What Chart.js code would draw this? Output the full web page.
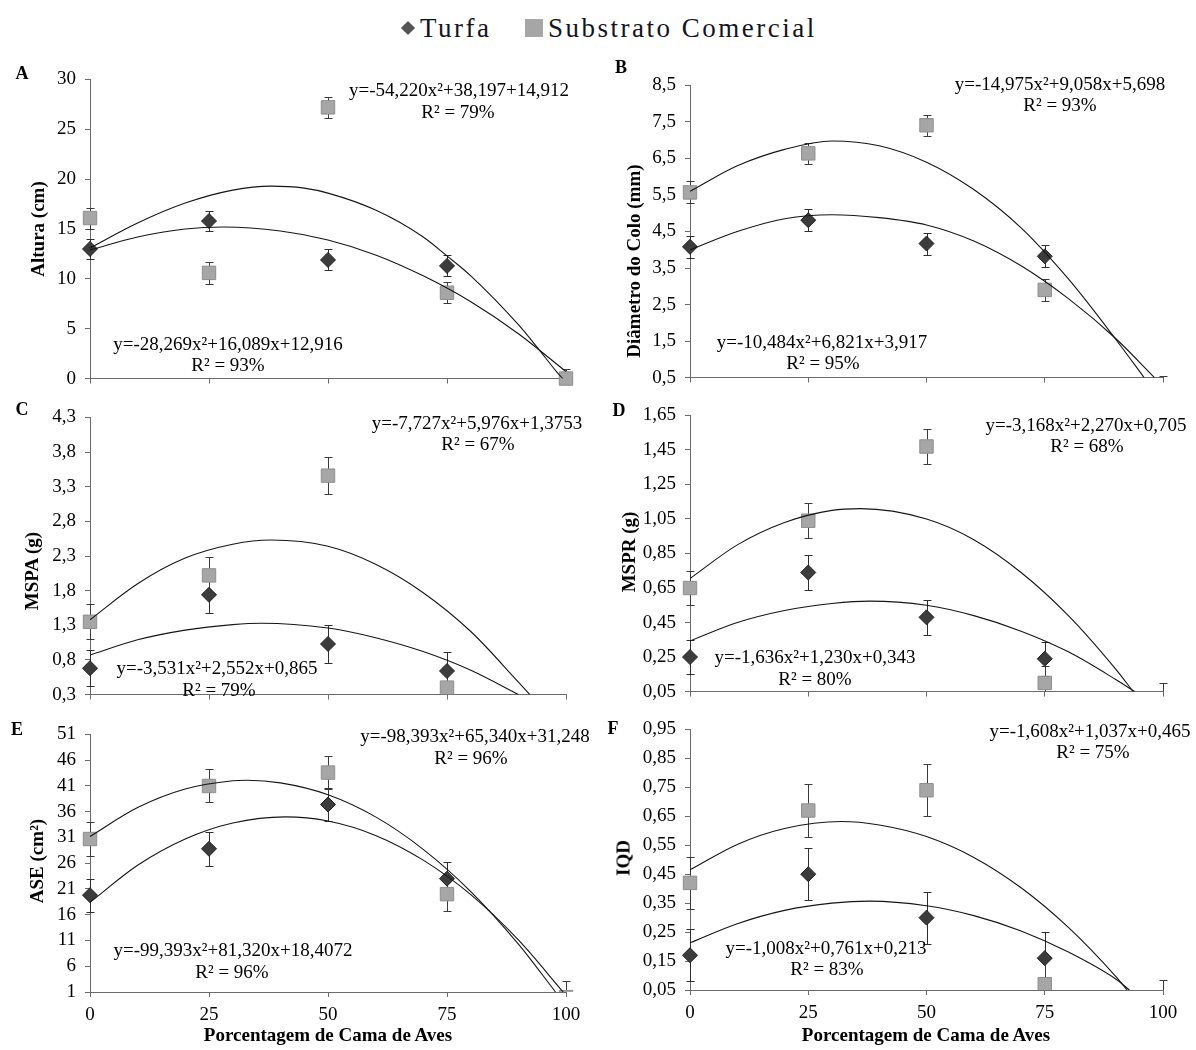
<!DOCTYPE html>
<html>
<head>
<meta charset="utf-8">
<script src="https://cdn.jsdelivr.net/npm/chart.js@4.4.1/dist/chart.umd.min.js"></script>
<style>
html,body{margin:0;padding:0;background:#fff;}
#wrap{position:relative;width:1196px;height:1050px;overflow:hidden;font-family:'Liberation Serif','Times New Roman',serif;color:#000;background:#fff;}
#wrap canvas{position:absolute;}
.t{position:absolute;white-space:nowrap;transform:translate(-50%,-50%);font-size:19px;line-height:1;}
.yt{position:absolute;white-space:nowrap;transform:translate(-50%,-50%) rotate(-90deg);font-size:19px;font-weight:bold;line-height:1;}
.xt{position:absolute;white-space:nowrap;transform:translate(-50%,-50%);font-size:19px;font-weight:bold;line-height:1;}
.lt{position:absolute;white-space:nowrap;transform:translate(-50%,-50%);font-size:18px;font-weight:bold;line-height:1;}
.leg{position:absolute;white-space:nowrap;transform:translateY(-50%);font-size:27px;letter-spacing:2.5px;line-height:1;color:#141420;}
.dia{position:absolute;width:10px;height:10px;background:#555;transform:translate(-50%,-50%) rotate(45deg);}
.sq{position:absolute;width:18px;height:18px;background:#a6a6a6;transform:translate(-50%,-50%);}
</style>
</head>
<body>
<div id="wrap">
  <div class="dia" style="left:408px;top:28px;"></div>
  <div class="leg" style="left:420px;top:28px;">Turfa</div>
  <div class="sq" style="left:534px;top:28px;"></div>
  <div class="leg" style="left:548px;top:28px;">Substrato Comercial</div>
  <canvas id="cA"></canvas>
  <canvas id="cB"></canvas>
  <canvas id="cC"></canvas>
  <canvas id="cD"></canvas>
  <canvas id="cE"></canvas>
  <canvas id="cF"></canvas>
</div>
<script>
// ---------- shared ----------
const xLevels = [0, 25, 50, 75, 100];
const xTickLabels = ['0', '25', '50', '75', '100'];
const xTitle = 'Porcentagem de Cama de Aves';
const legendLabels = ['Turfa', 'Substrato Comercial'];

// ---------- A : Altura (cm) ----------
const altTurfa = [13.0, 15.8, 11.9, 11.3];
const altTurfaErr = [1.0, 1.05, 1.05, 1.05];
const altSub = [16.1, 10.6, 27.2, 8.6, 0.0];
const altSubErr = [1.05, 1.1, 1.05, 1.05, 1.0];
const altCurveUpX = [0, 10, 20, 30, 38, 45, 50, 60, 70, 75, 80, 90, 94, 98, 99.3];
const altCurveUpY = [13.1, 15.6, 17.6, 18.9, 19.3, 19.1, 18.6, 16.9, 14.2, 12.3, 10.3, 5.4, 3.1, 0.7, 0];
const altCurveLoX = [0, 10, 20, 28, 40, 50, 60, 70, 80, 90, 100];
const altCurveLoY = [12.9, 14.2, 15.0, 15.2, 14.8, 13.9, 12.4, 10.3, 7.7, 4.5, 0.7];
const altTicks = [0, 5, 10, 15, 20, 25, 30];
const altTickLabels = ['0', '5', '10', '15', '20', '25', '30'];

// ---------- B : Diâmetro do Colo (mm) ----------
const diaTurfa = [4.08, 4.81, 4.17, 3.82];
const diaTurfaErr = [0.3, 0.3, 0.3, 0.3];
const diaSub = [5.57, 6.64, 7.41, 2.90, 0.0];
const diaSubErr = [0.3, 0.29, 0.29, 0.3, 0.55];
const diaCurveUpX = [0, 10, 20, 30, 40, 50, 60, 70, 80, 90, 96];
const diaCurveUpY = [5.6, 6.3, 6.75, 6.98, 6.85, 6.4, 5.65, 4.6, 3.2, 1.55, 0.5];
const diaCurveLoX = [0, 10, 20, 30, 40, 50, 60, 70, 80, 90, 98.2];
const diaCurveLoY = [4.0, 4.5, 4.85, 4.96, 4.88, 4.68, 4.24, 3.56, 2.66, 1.57, 0.5];
const diaTicks = [0.5, 1.5, 2.5, 3.5, 4.5, 5.5, 6.5, 7.5, 8.5];
const diaTickLabels = ['0,5', '1,5', '2,5', '3,5', '4,5', '5,5', '6,5', '7,5', '8,5'];

// ---------- C : MSPA (g) ----------
const mspaTurfa = [0.68, 1.74, 1.03, 0.64];
const mspaTurfaErr = [0.26, 0.27, 0.27, 0.27];
const mspaSub = [1.35, 2.02, 3.46, 0.40, 0.0];
const mspaSubErr = [0.25, 0.27, 0.27, 0.27, 0.2];
const mspaCurveUpX = [0, 10, 20, 30, 38, 50, 60, 70, 80, 90, 92.4];
const mspaCurveUpY = [1.38, 1.90, 2.27, 2.47, 2.53, 2.44, 2.18, 1.77, 1.21, 0.48, 0.3];
const mspaCurveLoX = [0, 10, 20, 30, 36, 50, 60, 70, 80, 90];
const mspaCurveLoY = [0.87, 1.09, 1.23, 1.31, 1.33, 1.26, 1.12, 0.92, 0.65, 0.3];
const mspaTicks = [0.3, 0.8, 1.3, 1.8, 2.3, 2.8, 3.3, 3.8, 4.3];
const mspaTickLabels = ['0,3', '0,8', '1,3', '1,8', '2,3', '2,8', '3,3', '3,8', '4,3'];

// ---------- D : MSPR (g) ----------
const msprTurfa = [0.25, 0.74, 0.48, 0.24];
const msprTurfaErr = [0.1, 0.1, 0.1, 0.1];
const msprSub = [0.65, 1.04, 1.47, 0.10, 0.0];
const msprSubErr = [0.1, 0.1, 0.1, 0.1, 0.1];
const msprCurveUpX = [0, 10, 20, 30, 36, 50, 60, 70, 80, 90, 93.7];
const msprCurveUpY = [0.705, 0.90, 1.03, 1.10, 1.11, 1.05, 0.93, 0.74, 0.49, 0.18, 0.05];
const msprCurveLoX = [0, 10, 20, 30, 38, 50, 60, 70, 80, 90, 94];
const msprCurveLoY = [0.343, 0.45, 0.52, 0.56, 0.574, 0.55, 0.49, 0.40, 0.28, 0.12, 0.05];
const msprTicks = [0.05, 0.25, 0.45, 0.65, 0.85, 1.05, 1.25, 1.45, 1.65];
const msprTickLabels = ['0,05', '0,25', '0,45', '0,65', '0,85', '1,05', '1,25', '1,45', '1,65'];

// ---------- E : ASE (cm²) ----------
const aseTurfa = [19.8, 28.8, 37.4, 23.0];
const aseTurfaErr = [3.2, 3.3, 3.2, 3.3];
const aseSub = [30.7, 41.0, 43.6, 20.0, 0.0];
const aseSubErr = [3.3, 3.2, 3.2, 3.3, 3.1];
const aseCurveUpX = [0, 10, 20, 30, 33, 40, 50, 60, 70, 80, 90, 97.8];
const aseCurveUpY = [31.2, 36.8, 40.4, 42.0, 42.1, 41.6, 39.3, 35.0, 28.7, 20.5, 10.3, 1];
const aseCurveLoX = [0, 10, 20, 30, 41, 50, 60, 70, 80, 90, 99.4];
const aseCurveLoY = [18.4, 25.6, 30.7, 33.8, 35.0, 34.2, 31.4, 26.6, 19.9, 11.1, 1];
const aseTicks = [1, 6, 11, 16, 21, 26, 31, 36, 41, 46, 51];
const aseTickLabels = ['1', '6', '11', '16', '21', '26', '31', '36', '41', '46', '51'];

// ---------- F : IQD ----------
const iqdTurfa = [0.17, 0.45, 0.30, 0.16];
const iqdTurfaErr = [0.09, 0.09, 0.09, 0.09];
const iqdSub = [0.42, 0.67, 0.74, 0.07, 0.0];
const iqdSubErr = [0.09, 0.09, 0.09, 0.09, 0.085];
const iqdCurveUpX = [0, 10, 20, 32, 40, 50, 60, 70, 80, 90, 92.4];
const iqdCurveUpY = [0.465, 0.553, 0.608, 0.632, 0.62, 0.58, 0.508, 0.403, 0.266, 0.097, 0.05];
const iqdCurveLoX = [0, 10, 20, 30, 38, 50, 60, 70, 80, 90, 92.9];
const iqdCurveLoY = [0.213, 0.279, 0.325, 0.350, 0.357, 0.341, 0.307, 0.254, 0.181, 0.088, 0.05];
const iqdTicks = [0.05, 0.15, 0.25, 0.35, 0.45, 0.55, 0.65, 0.75, 0.85, 0.95];
const iqdTickLabels = ['0,05', '0,15', '0,25', '0,35', '0,45', '0,55', '0,65', '0,75', '0,85', '0,95'];

// ---------- texts ----------
const panelLetters = ['A', 'B', 'C', 'D', 'E', 'F'];
const yTitles = ['Altura (cm)', 'Diâmetro do Colo (mm)', 'MSPA (g)', 'MSPR (g)', 'ASE (cm²)', 'IQD'];
const eqUpper = ['y=-54,220x²+38,197+14,912', 'y=-14,975x²+9,058x+5,698', 'y=-7,727x²+5,976x+1,3753',
                 'y=-3,168x²+2,270x+0,705', 'y=-98,393x²+65,340x+31,248', 'y=-1,608x²+1,037x+0,465'];
const r2Upper = ['R² = 79%', 'R² = 93%', 'R² = 67%', 'R² = 68%', 'R² = 96%', 'R² = 75%'];
const eqLower = ['y=-28,269x²+16,089x+12,916', 'y=-10,484x²+6,821x+3,917', 'y=-3,531x²+2,552x+0,865',
                 'y=-1,636x²+1,230x+0,343', 'y=-99,393x²+81,320x+18,4072', 'y=-1,008x²+0,761x+0,213'];
const r2Lower = ['R² = 93%', 'R² = 95%', 'R² = 79%', 'R² = 80%', 'R² = 96%', 'R² = 83%'];

// ---------- layout (positions only) ----------
const layout = [
  {id:'cA', left:0,   top:60,  w:600, h:338, padR:34, padT:13, xH:14, bottom:false, clipAll:true,
   letter:[22,73], yt:[37,229], eqU:[459,89], r2U:[458,111], eqL:[228,343], r2L:[228,364]},
  {id:'cB', left:600, top:66,  w:596, h:331, padR:33, padT:13, xH:14, bottom:false, clipAll:false,
   letter:[621,67], yt:[633,261], eqU:[1060,83], r2U:[1060,104], eqL:[822,341], r2L:[823,362]},
  {id:'cC', left:0,   top:398, w:600, h:316, padR:34, padT:13, xH:14, bottom:false, clipAll:false,
   letter:[22,409], yt:[31,571], eqU:[477,422], r2U:[478,443], eqL:[217,667], r2L:[219,689]},
  {id:'cD', left:600, top:396, w:596, h:315, padR:33, padT:13, xH:14, bottom:false, clipAll:false,
   letter:[619,410], yt:[628,552], eqU:[1086,424], r2U:[1087,445], eqL:[815,656], r2L:[815,678]},
  {id:'cE', left:0,   top:715, w:600, h:313, padR:34, padT:13, xH:36, bottom:true, clipAll:false,
   letter:[17,729], yt:[36,861], eqU:[475,735], r2U:[471,757], eqL:[233,949], r2L:[232,971], xt:[328,1034]},
  {id:'cF', left:600, top:710, w:596, h:316, padR:33, padT:13, xH:36, bottom:true, clipAll:false,
   letter:[613,728], yt:[623,858], eqU:[1090,730], r2U:[1093,751], eqL:[826,947], r2L:[827,968], xt:[926,1034]}
];

const panels = [
  {tur:altTurfa, turErr:altTurfaErr, sub:altSub, subErr:altSubErr, upX:altCurveUpX, upY:altCurveUpY, loX:altCurveLoX, loY:altCurveLoY, ticks:altTicks, labels:altTickLabels},
  {tur:diaTurfa, turErr:diaTurfaErr, sub:diaSub, subErr:diaSubErr, upX:diaCurveUpX, upY:diaCurveUpY, loX:diaCurveLoX, loY:diaCurveLoY, ticks:diaTicks, labels:diaTickLabels},
  {tur:mspaTurfa, turErr:mspaTurfaErr, sub:mspaSub, subErr:mspaSubErr, upX:mspaCurveUpX, upY:mspaCurveUpY, loX:mspaCurveLoX, loY:mspaCurveLoY, ticks:mspaTicks, labels:mspaTickLabels},
  {tur:msprTurfa, turErr:msprTurfaErr, sub:msprSub, subErr:msprSubErr, upX:msprCurveUpX, upY:msprCurveUpY, loX:msprCurveLoX, loY:msprCurveLoY, ticks:msprTicks, labels:msprTickLabels},
  {tur:aseTurfa, turErr:aseTurfaErr, sub:aseSub, subErr:aseSubErr, upX:aseCurveUpX, upY:aseCurveUpY, loX:aseCurveLoX, loY:aseCurveLoY, ticks:aseTicks, labels:aseTickLabels},
  {tur:iqdTurfa, turErr:iqdTurfaErr, sub:iqdSub, subErr:iqdSubErr, upX:iqdCurveUpX, upY:iqdCurveUpY, loX:iqdCurveLoX, loY:iqdCurveLoY, ticks:iqdTicks, labels:iqdTickLabels}
];

const FONT = "'Liberation Serif', 'Times New Roman', serif";
const AXIS_COLOR = '#6b6b6b';

function pairs(xs, ys) { return ys.map((v, i) => ({x: xs[i], y: v})); }

const errorBarPlugin = {
  id: 'errorBars',
  beforeDatasetsDraw(chart) {
    const {ctx, chartArea} = chart;
    const xs = chart.scales.x, ys = chart.scales.y;
    ctx.save();
    ctx.beginPath();
    ctx.rect(chartArea.left - 12, chartArea.top - 2, chartArea.right - chartArea.left + 24, chartArea.bottom - chartArea.top + 2);
    ctx.clip();
    chart.data.datasets.forEach(ds => {
      if (!ds.errors) return;
      ctx.strokeStyle = ds.errorColor || '#333';
      ctx.lineWidth = 1;
      ds.data.forEach((pt, i) => {
        const e = ds.errors[i];
        if (e == null) return;
        const px = Math.round(xs.getPixelForValue(pt.x)) + 0.5;
        const yt = Math.round(ys.getPixelForValue(pt.y + e)) + 0.5;
        const yb = Math.round(ys.getPixelForValue(pt.y - e)) + 0.5;
        ctx.beginPath();
        ctx.moveTo(px, yt); ctx.lineTo(px, yb);
        ctx.moveTo(px - 4, yt); ctx.lineTo(px + 4, yt);
        ctx.moveTo(px - 4, yb); ctx.lineTo(px + 4, yb);
        ctx.stroke();
      });
    });
    ctx.restore();
  }
};

function addText(cls, text, pos) {
  const d = document.createElement('div');
  d.className = cls;
  d.textContent = text;
  d.style.left = pos[0] + 'px';
  d.style.top = pos[1] + 'px';
  document.getElementById('wrap').appendChild(d);
}

layout.forEach((L, k) => {
  const P = panels[k];
  const cv = document.getElementById(L.id);
  cv.width = L.w; cv.height = L.h;
  cv.style.left = L.left + 'px'; cv.style.top = L.top + 'px';
  cv.style.width = L.w + 'px'; cv.style.height = L.h + 'px';
  const ptClip = L.clipAll ? false : {left: false, top: false, right: false, bottom: 0};
  new Chart(cv.getContext('2d'), {
    type: 'scatter',
    data: {
      datasets: [
        {label: 'Tendência Substrato', data: pairs(P.upX, P.upY), showLine: true, pointRadius: 0,
         borderColor: '#151515', borderWidth: 1.1, cubicInterpolationMode: 'monotone', order: 0},
        {label: 'Tendência Turfa', data: pairs(P.loX, P.loY), showLine: true, pointRadius: 0,
         borderColor: '#151515', borderWidth: 1.1, cubicInterpolationMode: 'monotone', order: 0},
        {label: legendLabels[0], data: pairs(xLevels, P.tur), errors: P.turErr, errorColor: '#2e2e2e',
         pointStyle: 'rectRot', pointRadius: 7.5, backgroundColor: '#3c3c3c', borderColor: '#222',
         borderWidth: 1, showLine: false, order: 1, clip: ptClip},
        {label: legendLabels[1], data: pairs(xLevels, P.sub), errors: P.subErr, errorColor: '#3a3a3a',
         pointStyle: 'rect', pointRadius: 9.5, backgroundColor: '#a6a6a6', borderColor: '#8e8e8e',
         borderWidth: 1, showLine: false, order: 2, clip: ptClip}
      ]
    },
    options: {
      responsive: false, animation: false, devicePixelRatio: 1, events: [],
      layout: {padding: {left: 0, right: L.padR, top: L.padT, bottom: 0}},
      plugins: {legend: {display: false}, tooltip: {enabled: false}},
      scales: {
        x: {
          type: 'linear', min: 0, max: 100,
          afterBuildTicks: ax => { ax.ticks = xLevels.map(v => ({value: v})); },
          afterFit: sc => { sc.height = L.xH; },
          ticks: {display: L.bottom, callback: (v, i) => xTickLabels[i], color: '#000',
                  font: {family: FONT, size: 19, lineHeight: 1.1}, padding: 8, maxRotation: 0, autoSkip: false},
          grid: {display: true, drawOnChartArea: false, drawTicks: true, tickLength: 5, color: AXIS_COLOR},
          border: {display: true, color: AXIS_COLOR, width: 1}
        },
        y: {
          type: 'linear', min: P.ticks[0], max: P.ticks[P.ticks.length - 1],
          afterBuildTicks: ax => { ax.ticks = P.ticks.map(v => ({value: v})); },
          afterFit: sc => { sc.width = 90; },
          ticks: {callback: (v, i) => P.labels[i], color: '#000', autoSkip: false,
                  font: {family: FONT, size: 19, lineHeight: 1.1}, padding: 9},
          grid: {display: true, drawOnChartArea: false, drawTicks: true, tickLength: 5, color: AXIS_COLOR},
          border: {display: true, color: AXIS_COLOR, width: 1}
        }
      }
    },
    plugins: [errorBarPlugin]
  });
  addText('lt', panelLetters[k], L.letter);
  addText('yt', yTitles[k], L.yt);
  addText('t', eqUpper[k], L.eqU);
  addText('t', r2Upper[k], L.r2U);
  addText('t', eqLower[k], L.eqL);
  addText('t', r2Lower[k], L.r2L);
  if (L.xt) addText('xt', xTitle, L.xt);
});
</script>
</body>
</html>
